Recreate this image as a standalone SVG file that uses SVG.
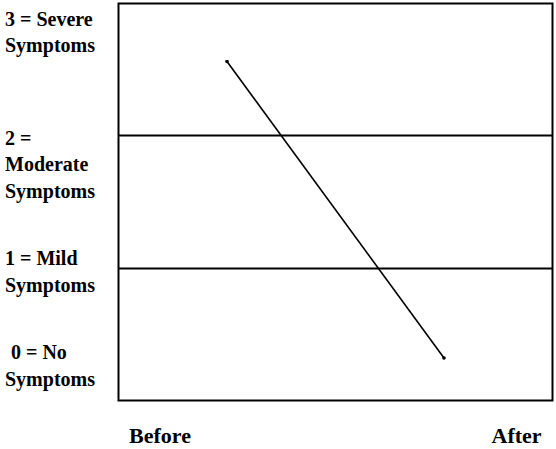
<svg xmlns="http://www.w3.org/2000/svg" width="556" height="449" viewBox="0 0 556 449">
<style>
.lbl{font-family:"Liberation Serif","Times New Roman",serif;font-weight:bold;font-size:20px;fill:#000}
.ax{font-family:"Liberation Serif","Times New Roman",serif;font-weight:bold;font-size:22px;fill:#000}
.frame{fill:#fff;stroke:#000;stroke-width:2}
.grid{stroke:#000;stroke-width:2}
.trend{stroke:#000;stroke-width:1.6;fill:none}
</style>
<defs>
<marker id="dot" viewBox="0 0 4 4" refX="2" refY="2" markerWidth="4" markerHeight="4" markerUnits="userSpaceOnUse">
<circle cx="2" cy="2" r="1.8" fill="#000"/>
</marker>
</defs>
<rect width="556" height="449" fill="#fff"/>
<g id="chart">
<rect class="frame" x="118.5" y="3.5" width="434" height="397"/>
<line class="grid" x1="118.5" y1="135.5" x2="552.5" y2="135.5"/>
<line class="grid" x1="118.5" y1="268.5" x2="552.5" y2="268.5"/>
</g>
<g id="connectors">
<line class="trend" x1="227" y1="61.5" x2="444" y2="358" marker-start="url(#dot)" marker-end="url(#dot)"/>
</g>
<g id="label-3">
<text class="lbl" x="5" y="25.5">3 = Severe</text>
<text class="lbl" x="5" y="52">Symptoms</text>
</g>
<g id="label-2">
<text class="lbl" x="5" y="145">2 =</text>
<text class="lbl" x="5" y="171">Moderate</text>
<text class="lbl" x="5" y="197.5">Symptoms</text>
</g>
<g id="label-1">
<text class="lbl" x="5" y="265">1 = Mild</text>
<text class="lbl" x="5" y="291.5">Symptoms</text>
</g>
<g id="label-0">
<text class="lbl" x="11" y="359">0 = No</text>
<text class="lbl" x="5" y="385.5">Symptoms</text>
</g>
<g id="label-before">
<text class="ax" x="129" y="443">Before</text>
</g>
<g id="label-after">
<text class="ax" x="491.5" y="443">After</text>
</g>
</svg>
